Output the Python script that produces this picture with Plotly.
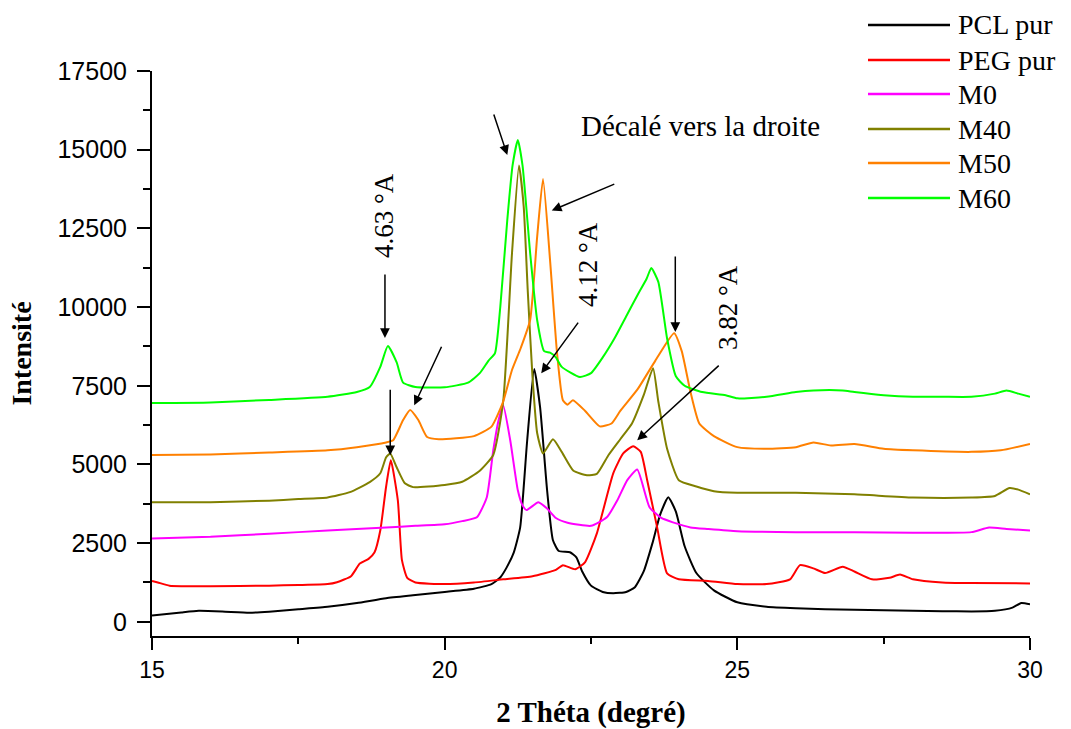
import plotly.graph_objects as go

# ---------------- data ----------------
series_names = ["PCL pur", "PEG pur", "M0", "M40", "M50", "M60"]
series_colors = ["#000000", "#FF0000", "#FF00FF", "#808000", "#FF8000", "#00FF00"]

pcl_x = [15.0, 15.5, 15.8, 16.2, 16.66, 17.0, 17.5, 18.0, 18.5, 19.0, 19.5, 20.0, 20.5, 20.8, 20.95,
         21.06, 21.18, 21.29, 21.41, 21.53, 21.63, 21.75, 21.85, 21.95, 22.14, 22.25, 22.35, 22.5,
         22.7, 22.88, 23.1, 23.25, 23.4, 23.55, 23.68, 23.82, 23.95, 24.1, 24.3, 24.6, 25.0, 25.5,
         26.0, 26.5, 27.0, 27.5, 28.0, 28.5, 29.0, 29.4, 29.7, 29.85, 30.0]
pcl_y = [200, 300, 350, 330, 290, 320, 400, 480, 600, 750, 850, 950, 1050, 1200, 1410,
         1730, 2200, 3000, 5770, 8030, 6820, 4180, 2590, 2250, 2210, 2050, 1600, 1150,
         950, 905, 950, 1100, 1600, 2500, 3400, 3960, 3500, 2400, 1550, 1000, 620, 480,
         430, 400, 380, 370, 350, 340, 330, 350, 450, 600, 560]

peg_x = [15.0, 15.1, 15.3, 16.0, 17.0, 17.5, 18.0, 18.16, 18.4, 18.55, 18.7, 18.8, 18.9, 19.0,
         19.08, 19.2, 19.27, 19.36, 19.5, 20.0, 20.5, 21.0, 21.5, 21.9, 22.02, 22.23, 22.4, 22.6,
         22.88, 23.05, 23.22, 23.35, 23.46, 23.63, 23.8, 24.0, 24.5, 25.0, 25.5, 25.9, 26.07,
         26.3, 26.5, 26.8, 27.0, 27.3, 27.6, 27.78, 28.0, 28.5, 29.0, 30.0]
peg_y = [1300, 1250, 1150, 1130, 1150, 1170, 1200, 1260, 1450, 1850, 2000, 2200, 2900, 4300,
         5130, 3860, 1960, 1400, 1250, 1200, 1250, 1350, 1450, 1650, 1800, 1670, 1900, 2810,
         4720, 5350, 5580, 5400, 4500, 3000, 1540, 1350, 1300, 1200, 1200, 1350, 1800,
         1700, 1550, 1750, 1600, 1350, 1400, 1500, 1350, 1250, 1230, 1220]

m0_x = [15.0, 16.0, 17.0, 18.0, 19.0, 19.5, 20.0, 20.3, 20.55, 20.72, 20.83, 20.92, 21.0, 21.12,
        21.25, 21.33, 21.4, 21.6, 21.75, 21.9, 22.1, 22.5, 22.77, 22.95, 23.12, 23.29, 23.5,
        23.7, 23.9, 24.2, 24.5, 25.0, 26.0, 27.0, 28.0, 29.0, 29.3, 29.6, 30.0]
m0_y = [2650, 2700, 2800, 2900, 3000, 3050, 3100, 3200, 3320, 3960, 5450, 6400, 6870, 5770,
        4180, 3700, 3550, 3800, 3600, 3300, 3150, 3050, 3320, 3860, 4500, 4840, 3640,
        3300, 3160, 3000, 2950, 2880, 2850, 2850, 2830, 2850, 3000, 2950, 2900]

m40_x = [15.0, 16.0, 17.0, 17.5, 18.0, 18.38, 18.72, 18.9, 19.0, 19.07, 19.18, 19.32, 19.46, 20.0,
         20.3, 20.6, 20.83, 21.0, 21.15, 21.27, 21.35, 21.42, 21.5, 21.58, 21.68, 21.85, 22.0,
         22.2, 22.43, 22.6, 22.8, 23.0, 23.2, 23.4, 23.56, 23.65, 23.8, 24.0, 24.3, 24.6, 25.0,
         26.0, 27.0, 28.0, 29.0, 29.4, 29.65, 29.8, 30.0]
m40_y = [3800, 3800, 3850, 3900, 3950, 4120, 4440, 4720, 5230, 5350, 4910, 4400, 4280, 4350,
         4450, 4800, 5300, 7000, 11700, 14500, 13200, 10500, 7800, 6000, 5350, 5800, 5400,
         4800, 4660, 4700, 5300, 5800, 6300, 7200, 8060, 7000, 5500, 4500, 4300, 4150, 4100,
         4100, 4050, 3950, 3950, 4000, 4250, 4200, 4050]

m50_x = [15.0, 16.0, 17.0, 18.0, 18.5, 19.0, 19.12, 19.29, 19.41, 19.55, 19.7, 19.9, 20.5, 20.8,
         21.0, 21.15, 21.3, 21.46, 21.58, 21.68, 21.8, 21.92, 22.02, 22.1, 22.19, 22.4, 22.65,
         22.85, 23.0, 23.3, 23.6, 23.92, 24.05, 24.2, 24.35, 24.6, 25.0, 25.5, 26.0, 26.3, 26.6,
         27.0, 27.5, 28.0, 29.0, 29.5, 30.0]
m50_y = [5300, 5320, 5380, 5450, 5550, 5700, 5770, 6410, 6730, 6410, 5870, 5800, 5900, 6200,
         7000, 8000, 8700, 9590, 12230, 14070, 11500, 8540, 7040, 6900, 7040, 6700, 6210,
         6300, 6700, 7400, 8300, 9170, 8600, 7300, 6300, 5900, 5550, 5500, 5550, 5700, 5600,
         5650, 5500, 5450, 5400, 5450, 5650]

m60_x = [15.0, 16.0, 17.0, 18.0, 18.5, 18.72, 18.9, 19.03, 19.18, 19.29, 19.5, 20.0, 20.4,
         20.6, 20.75, 20.86, 20.95, 21.07, 21.16, 21.25, 21.33, 21.46, 21.58, 21.7, 21.8, 21.9,
         22.0, 22.31, 22.5, 22.7, 22.9, 23.1, 23.3, 23.45, 23.53, 23.65, 23.8, 23.95, 24.1, 24.4,
         24.8, 25.0, 25.5, 26.0, 26.3, 26.8, 27.0, 27.5, 28.0, 28.5, 29.0, 29.4, 29.6, 29.8, 30.0]
m60_y = [6950, 6970, 7050, 7150, 7300, 7460, 8100, 8760, 8240, 7600, 7460, 7450, 7600,
         7900, 8300, 8540, 10000, 12770, 14500, 15310, 14500, 11720, 9590, 8600, 8550, 8400,
         8100, 7780, 7900, 8400, 9000, 9700, 10400, 10900, 11240, 10800, 9000, 7800, 7500, 7300,
         7200, 7100, 7150, 7300, 7350, 7350, 7300, 7200, 7150, 7150, 7150, 7250, 7350, 7250, 7150]

series_x = [pcl_x, peg_x, m0_x, m40_x, m50_x, m60_x]
series_y = [pcl_y, peg_y, m0_y, m40_y, m50_y, m60_y]

x_ticks = [15, 20, 25, 30]
y_ticks = [0, 2500, 5000, 7500, 10000, 12500, 15000, 17500]

# ---------------- figure ----------------
W, H = 1071, 729
ML, MR, MT, MB = 152, 41, 71, 93
PW, PH = W - ML - MR, H - MT - MB

def px_x(p):
    return (p - ML) / PW

def px_y(p):
    return (H - MB - p) / PH

fig = go.Figure()
for name, col, xs, ys in zip(series_names, series_colors, series_x, series_y):
    fig.add_trace(go.Scatter(x=xs, y=ys, mode="lines", name=name,
                             line=dict(color=col, width=2, shape="spline", smoothing=0.5),
                             showlegend=False))

serif = "Liberation Serif, Times New Roman, serif"
sans = "Liberation Sans, Arial, sans-serif"

# manual legend (long line samples like the original)
legend_rows = [25, 60, 94, 129, 163, 198]
shapes = []
annotations = []
for name, col, ry in zip(series_names, series_colors, legend_rows):
    shapes.append(dict(type="line", xref="paper", yref="paper",
                       x0=px_x(868), x1=px_x(950), y0=px_y(ry), y1=px_y(ry),
                       line=dict(color=col, width=2.5)))
    annotations.append(dict(xref="paper", yref="paper", x=px_x(956), y=px_y(ry),
                            xanchor="left", yanchor="middle", text=name, showarrow=False,
                            font=dict(family=serif, size=28, color="black")))

# arrows: (head x, head y in data units, ax, ay in px)
arrows = [
    (18.98, 9015, 0, -65),
    (19.07, 5290, 0, -67),
    (19.48, 6880, 28, -60),
    (21.07, 14830, -14, -42),
    (21.83, 13070, 64, -27),
    (21.65, 7900, 38, -52),
    (23.29, 5770, 83, -76),
    (23.94, 9206, 0, -77),
]
for hx, hy, ax, ay in arrows:
    annotations.append(dict(x=hx, y=hy, xref="x", yref="y", ax=ax, ay=ay, axref="pixel",
                            ayref="pixel", text="", showarrow=True, arrowhead=2,
                            arrowsize=1.3, arrowwidth=1.5, arrowcolor="black"))

# text labels
labels = [
    ("4.63 °A", 384, 216, -90, 27),
    ("4.12 °A", 588, 265, -90, 27),
    ("3.82 °A", 728, 308, -90, 27),
    ("Décalé vers la droite", 700, 126, 0, 29),
]
for txt, lx, ly, ang, fs in labels:
    annotations.append(dict(xref="paper", yref="paper", x=px_x(lx), y=px_y(ly),
                            xanchor="center", yanchor="middle", text=txt, showarrow=False,
                            textangle=ang, font=dict(family=serif, size=fs, color="black")))

fig.update_layout(
    width=W, height=H,
    margin=dict(l=ML, r=MR, t=MT, b=MB, autoexpand=False),
    paper_bgcolor="white", plot_bgcolor="white",
    showlegend=False,
    shapes=shapes,
    annotations=annotations,
    xaxis=dict(
        range=[15, 30], tickvals=x_ticks, ticks="outside", ticklen=12, tickwidth=2,
        tickcolor="black", showline=True, linecolor="black", linewidth=2,
        showgrid=False, zeroline=False,
        minor=dict(ticks="outside", ticklen=6, tickwidth=2, tickcolor="black", dtick=2.5,
                   tick0=15, showgrid=False),
        tickfont=dict(family=sans, size=23, color="black"),
        title=dict(text="<b>2 Théta (degré)</b>", standoff=20,
                   font=dict(family=serif, size=29, color="black")),
        automargin=False,
    ),
    yaxis=dict(
        range=[-450, 17500], tickvals=y_ticks, tickformat="d", ticks="outside", ticklen=13,
        tickwidth=2, tickcolor="black", showline=True, linecolor="black", linewidth=2,
        showgrid=False, zeroline=False, ticklabelstandoff=5,
        minor=dict(ticks="outside", ticklen=7, tickwidth=2, tickcolor="black", dtick=1250,
                   tick0=0, showgrid=False),
        tickfont=dict(family=sans, size=25, color="black"),
        title=dict(text="<b>Intensité</b>", standoff=18,
                   font=dict(family=serif, size=28, color="black")),
        automargin=False,
    ),
)

fig.write_html("out.html")
